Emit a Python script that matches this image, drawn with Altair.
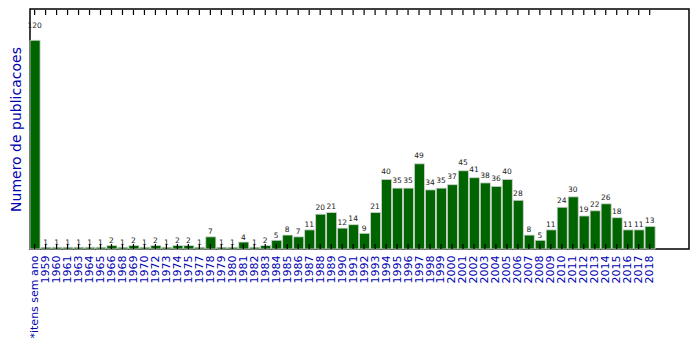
import altair as alt
import pandas as pd

categories = ["*itens sem ano", "1959", "1960", "1961", "1963", "1964", "1965", "1966",
              "1968", "1969", "1970", "1972", "1973", "1974", "1975", "1977", "1978",
              "1979", "1980", "1981", "1982", "1983", "1984", "1985", "1986", "1987",
              "1988", "1989", "1990", "1991", "1992", "1993", "1994", "1995", "1996",
              "1997", "1998", "1999", "2000", "2001", "2002", "2003", "2004", "2005",
              "2006", "2007", "2008", "2009", "2010", "2011", "2012", "2013", "2014",
              "2015", "2016", "2017", "2018"]
values = [120, 1, 1, 1, 1, 1, 1, 2, 1, 2, 1, 2, 1, 2, 2, 1, 7, 1, 1, 4, 1, 2,
          5, 8, 7, 11, 20, 21, 12, 14, 9, 21, 40, 35, 35, 49, 34, 35, 37,
          45, 41, 38, 36, 40, 28, 8, 5, 11, 24, 30, 19, 22, 26, 18, 11, 11, 13]

df = pd.DataFrame({"cat": categories, "v": values, "i": list(range(len(categories)))})

BLUE = "#0000b0"
font = "DejaVu Sans"
W, H = 659, 240

label_arr = "[" + ",".join("'" + c + "'" for c in categories) + "]"
tick_vals = [i + 0.42 for i in range(len(categories))]
xscale = alt.Scale(domain=[0, 60], nice=False, zero=False)
yscale = alt.Scale(domain=[0, 138], nice=False)

xaxis = alt.Axis(values=tick_vals,
                 labelExpr=label_arr + "[round(datum.value - 0.42)]",
                 labelAngle=270, labelColor=BLUE, labelFont=font,
                 labelFontSize=11, ticks=False, domain=False, grid=False,
                 labelPadding=6, title=None, labelOverlap=False,
                 labelBound=False, labelFlush=False)
yaxis = alt.Axis(labels=False, ticks=False, domain=False, grid=False,
                 title="Numero de publicacoes", titleColor=BLUE,
                 titleFont=font, titleFontSize=14, titleFontWeight="normal",
                 titlePadding=7)

base = alt.Chart(df).transform_calculate(
    x0="datum.i", x1="datum.i + 0.92", xc="datum.i + 0.42", ly="datum.v * 1.05"
)

frame = alt.Chart(pd.DataFrame({"f": [0]})).mark_rect(
    filled=False, stroke="black", strokeWidth=1.5
).encode(x=alt.value(0), x2=alt.value(W), y=alt.value(0), y2=alt.value(H))

bars = base.mark_rect(color="#006400", stroke="#d8d8d8", strokeWidth=0.8).encode(
    x=alt.X("x0:Q", scale=xscale, axis=xaxis),
    x2="x1:Q",
    y=alt.Y("v:Q", scale=yscale, axis=yaxis),
    y2=alt.datum(0),
)

texts = base.mark_text(baseline="bottom", align="center", font=font, fontSize=7.5,
                       color="#222222").encode(
    x=alt.X("xc:Q", scale=xscale, axis=xaxis),
    y=alt.Y("ly:Q", scale=yscale, axis=yaxis),
    text="v:Q",
)

ticks_bottom = base.mark_rule(color="black", strokeWidth=1.2).encode(
    x=alt.X("xc:Q", scale=xscale, axis=xaxis), y=alt.value(H), y2=alt.value(H - 5)
)
ticks_top = base.mark_rule(color="black", strokeWidth=1.2).encode(
    x=alt.X("xc:Q", scale=xscale, axis=xaxis), y=alt.value(1), y2=alt.value(6)
)

chart = alt.layer(frame, bars, texts, ticks_bottom, ticks_top).properties(
    width=W, height=H,
    background="white",
    autosize=alt.AutoSizeParams(type="none"),
    padding={"left": 30, "top": 9, "right": 10, "bottom": 100},
).configure_view(stroke="transparent")

chart.save("out.html", embed_options={"renderer": "svg", "actions": False})
